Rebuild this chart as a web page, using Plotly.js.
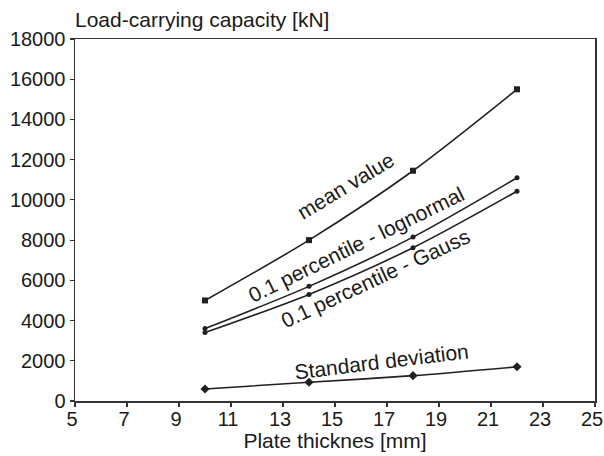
<!DOCTYPE html>
<html>
<head>
<meta charset="utf-8">
<script src="https://cdn.plot.ly/plotly-3.0.1.min.js"></script>
<style>html,body{margin:0;padding:0;background:#fff;}#chart{width:604px;height:456px;}</style>
</head>
<body>
<div id="chart"></div>
<script>
var thickness = [10, 14, 18, 22];
var meanValue = [5000, 8000, 11450, 15500];
var lognormal = [3600, 5700, 8150, 11100];
var gauss = [3400, 5300, 7620, 10430];
var stdDev = [600, 930, 1260, 1700];
var xTicks = [5, 7, 9, 11, 13, 15, 17, 19, 21, 23, 25];
var yTicks = [0, 2000, 4000, 6000, 8000, 10000, 12000, 14000, 16000, 18000];

var lineColor = '#231f20';
var font = 'Liberation Sans, Arial, sans-serif';
var txt = '#1a1a1a';

function tr(y, sym, size) {
  return {
    x: thickness, y: y, type: 'scatter', mode: 'lines+markers',
    line: {color: lineColor, width: 1.6, shape: 'spline', smoothing: 0.8},
    marker: {symbol: sym, size: size, color: lineColor},
    showlegend: false, hoverinfo: 'skip'
  };
}

var data = [
  tr(meanValue, 'square', 6),
  tr(lognormal, 'circle', 5),
  tr(gauss, 'circle', 5),
  tr(stdDev, 'diamond', 7)
];

function ann(text, x, y, angle) {
  return {text: text, x: x, y: y, xref: 'x', yref: 'y', showarrow: false,
          textangle: angle, font: {family: font, size: 21, color: txt}};
}

var layout = {
  width: 604, height: 456,
  margin: {l: 75, r: 9, t: 39, b: 55},
  paper_bgcolor: '#fff', plot_bgcolor: '#fff',
  font: {family: font, size: 21, color: txt},
  xaxis: {
    range: [5, 25], tickvals: xTicks, ticktext: xTicks.map(String),
    showgrid: false, zeroline: false, showline: true, mirror: true,
    linecolor: '#333', linewidth: 1.5, ticks: 'outside', ticklen: 4, tickcolor: '#333', tickwidth: 1.2,
    tickfont: {family: font, size: 20, color: txt},
    ticklabeloverflow: 'allow', ticklabelstandoff: -5, ticklabelshift: -3,
    title: {text: 'Plate thicknes [mm]', font: {family: font, size: 21, color: txt}, standoff: 2},
    automargin: false
  },
  yaxis: {
    range: [0, 18000], tickvals: yTicks, ticktext: yTicks.map(String),
    showgrid: false, zeroline: false, showline: true, mirror: true,
    linecolor: '#333', linewidth: 1.5, ticks: 'outside', ticklen: 4, tickcolor: '#333', tickwidth: 1.2,
    tickfont: {family: font, size: 20, color: txt},
    ticklabeloverflow: 'allow',
    automargin: false
  },
  annotations: [
    {text: 'Load-carrying capacity [kN]', xref: 'paper', yref: 'paper', x: -0.004, y: 1.055,
     xanchor: 'left', yanchor: 'middle', showarrow: false,
     font: {family: font, size: 21, color: txt}},
    ann('mean value', 15.42, 10740, -31),
    ann('0.1 percentile - lognormal', 15.81, 7760, -26),
    ann('0.1 percentile - Gauss', 16.54, 6070, -25),
    ann('Standard deviation', 16.77, 1940, -7)
  ]
};

Plotly.newPlot('chart', data, layout, {displayModeBar: false, staticPlot: true});
</script>
</body>
</html>
